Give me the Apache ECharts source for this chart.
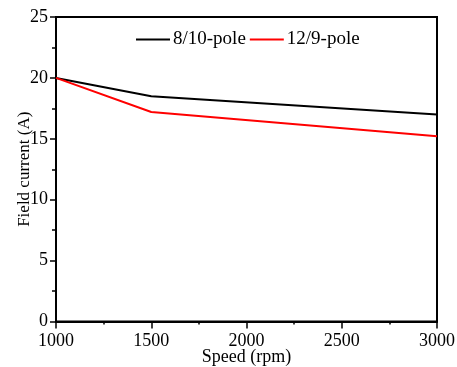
<!DOCTYPE html>
<html><head><meta charset="utf-8">
<script src="https://cdn.jsdelivr.net/npm/echarts@6/dist/echarts.min.js"></script>
<style>html,body{margin:0;padding:0;background:#fff}#c{width:457px;height:367px}</style>
</head><body><div id="c"></div>
<script>
const speeds = [1000, 1500, 3000];
const pole810 = [20.0, 18.5, 17.0];
const pole129 = [20.0, 17.2, 15.2];
const seriesNames = ['8/10-pole', '12/9-pole'];
const F = 'Liberation Serif, Times New Roman, serif';
const chart = echarts.init(document.getElementById('c'));
chart.setOption({
  animation: false,
  grid: {left: 56, right: 20, top: 17, bottom: 45.5, show: true, borderColor: '#000', borderWidth: 2, containLabel: false, outerBoundsMode: 'none'},
  legend: {
    top: 25, left: 131, itemWidth: 34, itemHeight: 2, itemGap: 4,
    textStyle: {fontFamily: F, fontSize: 19, color: '#000', padding: [0,0,0,-2]},
    icon: 'rect',
    data: seriesNames
  },
  xAxis: {
    type: 'value', min: 1000, max: 3000, interval: 500,
    name: 'Speed (rpm)', nameLocation: 'middle', nameGap: 27, nameMoveOverlap: false,
    nameTextStyle: {fontFamily: F, fontSize: 18, color: '#000'},
    axisLine: {lineStyle: {color: '#000', width: 2}},
    axisTick: {show: true, length: 7, lineStyle: {color: '#000', width: 1.5}},
    minorTick: {show: true, splitNumber: 2, length: 3, lineStyle: {color: '#000', width: 1.5}},
    axisLabel: {fontFamily: F, fontSize: 18, color: '#000', margin: 11, formatter: v => String(v)},
    splitLine: {show: false}
  },
  yAxis: {
    type: 'value', min: 0, max: 25, interval: 5,
    name: 'Field current (A)', nameLocation: 'middle', nameGap: 23, nameMoveOverlap: false,
    nameTextStyle: {fontFamily: F, fontSize: 17, color: '#000'},
    axisLine: {lineStyle: {color: '#000', width: 2}},
    axisTick: {show: true, length: 6, lineStyle: {color: '#000', width: 1.5}},
    minorTick: {show: true, splitNumber: 2, length: 4, lineStyle: {color: '#000', width: 1.5}},
    axisLabel: {fontFamily: F, fontSize: 18, color: '#000', margin: 8, formatter: v => String(v)},
    splitLine: {show: false}
  },
  series: [
    {name: seriesNames[0], type: 'line', data: speeds.map((s,i)=>[s, pole810[i]]), showSymbol: false, symbol: 'none',
     lineStyle: {color: '#000', width: 2}, itemStyle: {color: '#000'}},
    {name: seriesNames[1], type: 'line', data: speeds.map((s,i)=>[s, pole129[i]]), showSymbol: false, symbol: 'none',
     lineStyle: {color: '#ff0000', width: 2}, itemStyle: {color: '#ff0000'}}
  ]
});
</script></body></html>
